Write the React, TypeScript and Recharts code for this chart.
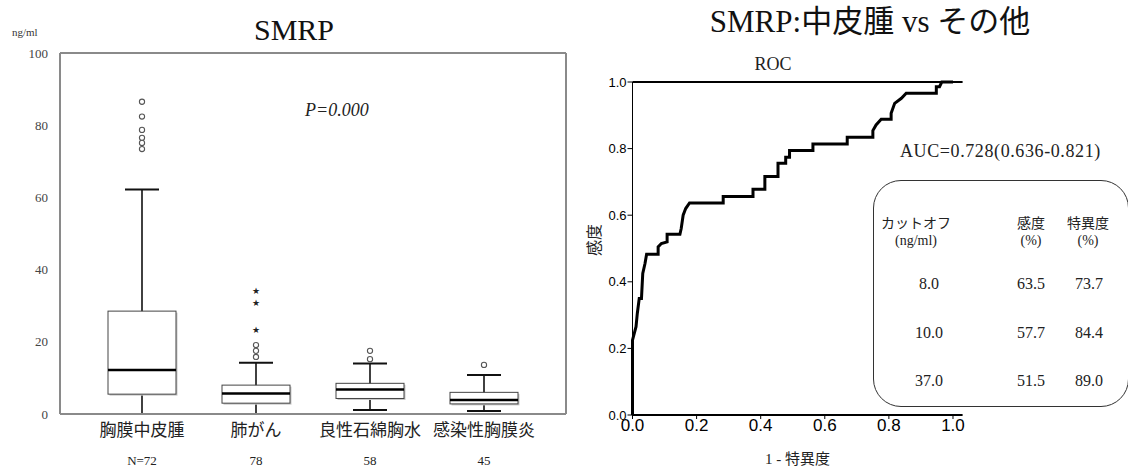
import React from "react";
import {
  ComposedChart,
  Bar,
  Line,
  XAxis,
  YAxis,
  ReferenceLine,
  Label,
} from "recharts";

// box plot (SMRP, ng/ml)
const groups = ["胸膜中皮腫", "肺がん", "良性石綿胸水", "感染性胸膜炎"];
const counts = ["N=72", "78", "58", "45"];
const whiskerLow = [0, 0, 1.1, 0.8];
const q1 = [5.5, 3.0, 4.3, 2.8];
const median = [12.2, 5.7, 6.8, 3.9];
const q3 = [28.5, 8.0, 8.5, 6.0];
const whiskerHigh = [62.2, 14.2, 14.0, 10.8];
const outliers = [[86.5, 82.4, 78.7, 76.5, 75.1, 73.4], [19.1, 17.5, 15.8], [17.5, 15.2], [13.6]];
const extremes = [[], [34.3, 30.8, 23.3], [], []];
const boxTicks = [0, 20, 40, 60, 80, 100];

// ROC curve
const fpr = [
  0, 0, 0.011, 0.015, 0.021, 0.028, 0.032, 0.039, 0.044, 0.08, 0.08, 0.09, 0.108, 0.108, 0.148,
  0.152, 0.158, 0.166, 0.178, 0.283, 0.283, 0.376, 0.376, 0.413, 0.413, 0.454, 0.454, 0.478,
  0.478, 0.49, 0.49, 0.563, 0.563, 0.67, 0.67, 0.75, 0.75, 0.76, 0.776, 0.807, 0.807, 0.818,
  0.839, 0.854, 0.948, 0.948, 0.958, 0.965, 1.0,
];
const tpr = [
  0, 0.225, 0.265, 0.305, 0.35, 0.35, 0.425, 0.455, 0.483, 0.483, 0.505, 0.515, 0.52, 0.543,
  0.543, 0.56, 0.6, 0.62, 0.637, 0.637, 0.656, 0.656, 0.678, 0.678, 0.716, 0.716, 0.756, 0.756,
  0.774, 0.774, 0.794, 0.794, 0.814, 0.814, 0.834, 0.834, 0.854, 0.871, 0.888, 0.888, 0.906,
  0.936, 0.951, 0.966, 0.966, 0.986, 0.986, 1.0, 1.0,
];
const rocTicks = [0, 0.2, 0.4, 0.6, 0.8, 1.0];

// cutoff table
const cutoffs = ["8.0", "10.0", "37.0"];
const sensitivity = ["63.5", "57.7", "51.5"];
const specificity = ["73.7", "84.4", "89.0"];

const SERIF = "'Liberation Serif', 'Noto Sans CJK JP', serif";
const SANS = "'Liberation Sans', Arial, sans-serif";
const FRAME = { stroke: "#8a8a8a", strokeWidth: 2 };

const boxData = groups.map((name, i) => ({
  name,
  lo: whiskerLow[i],
  q1: q1[i],
  med: median[i],
  q3: q3[i],
  hi: whiskerHigh[i],
  range: [whiskerLow[i], whiskerHigh[i]],
  outliers: outliers[i],
  extremes: extremes[i],
}));

const rocData = fpr.map((x, i) => ({ fpr: x, tpr: tpr[i] }));

// draws whiskers, box, median and outliers; scale taken from the range bar
// eslint-disable-next-line @typescript-eslint/no-explicit-any
function BoxShape(props: any) {
  const { x, y, width, height, payload: p } = props;
  const top = Math.min(y, y + height);
  const bot = Math.max(y, y + height);
  const k = (bot - top) / (p.hi - p.lo);
  const Y = (v: number) => bot - (v - p.lo) * k;
  const cx = x + width / 2;
  const cap = width / 4;
  return (
    <g>
      <line x1={cx} x2={cx} y1={Y(p.hi)} y2={Y(p.lo)} stroke="#111" strokeWidth={1.6} />
      <line x1={cx - cap} x2={cx + cap} y1={Y(p.hi)} y2={Y(p.hi)} stroke="#111" strokeWidth={2} />
      <line x1={cx - cap} x2={cx + cap} y1={Y(p.lo)} y2={Y(p.lo)} stroke="#111" strokeWidth={2} />
      <rect x={x + 1.5} y={Y(p.q3) + 1.5} width={width} height={Y(p.q1) - Y(p.q3)} fill="#c8c8c8" />
      <rect x={x} y={Y(p.q3)} width={width} height={Y(p.q1) - Y(p.q3)} fill="#fff" stroke="#444" strokeWidth={1} />
      <line x1={x} x2={x + width} y1={Y(p.med)} y2={Y(p.med)} stroke="#000" strokeWidth={2.5} />
      {p.outliers.map((v: number, i: number) => (
        <circle key={"o" + i} cx={cx} cy={Y(v)} r={2.6} fill="#fff" stroke="#555" strokeWidth={1.1} />
      ))}
      {p.extremes.map((v: number, i: number) => (
        <text key={"e" + i} x={cx} y={Y(v) + 3.5} textAnchor="middle" fontSize={9} fill="#222" fontFamily="'DejaVu Sans'">
          ★
        </text>
      ))}
    </g>
  );
}

// eslint-disable-next-line @typescript-eslint/no-explicit-any
function GroupTick(props: any) {
  const { x, y, payload, index } = props;
  return (
    <g>
      <text x={x} y={y + 22} textAnchor="middle" fontSize={17} fill="#222" fontFamily={SERIF}>
        {payload.value}
      </text>
      <text x={x} y={y + 51} textAnchor="middle" fontSize={13} fill="#222" fontFamily={SERIF}>
        {counts[index]}
      </text>
    </g>
  );
}

const abs = (left: number, top: number, extra: React.CSSProperties = {}): React.CSSProperties => ({
  position: "absolute",
  left,
  top,
  whiteSpace: "nowrap",
  ...extra,
});

export default function App() {
  return (
    <div style={{ position: "absolute", left: 0, top: 0, width: 1128, height: 469, background: "#fff", overflow: "hidden" }}>
      {/* left: box plot */}
      <div style={abs(0, 0)}>
        <ComposedChart width={600} height={469} data={boxData} margin={{ top: 52, right: 33, left: 10, bottom: 5 }}>
          <XAxis
            dataKey="name"
            type="category"
            padding={{ left: 25, right: 25 }}
            height={50}
            axisLine={FRAME}
            tickLine={false}
            tickSize={0}
            tickMargin={0}
            interval={0}
            tick={<GroupTick />}
          />
          <XAxis xAxisId="top" orientation="top" dataKey="name" type="category" height={1} axisLine={FRAME} tickLine={false} tick={false} />
          <YAxis
            type="number"
            domain={[0, 100]}
            ticks={boxTicks}
            width={50}
            axisLine={FRAME}
            tickLine={false}
            tickSize={0}
            tickMargin={12}
            tick={{ fontSize: 13, fill: "#444", fontFamily: SERIF }}
          />
          <YAxis yAxisId="right" orientation="right" type="number" domain={[0, 100]} width={1} axisLine={FRAME} tickLine={false} tick={false} />
          <Bar dataKey="range" barSize={68} isAnimationActive={false} shape={(p: unknown) => <BoxShape {...(p as object)} />} />
        </ComposedChart>
      </div>
      <div style={abs(294, 13, { transform: "translateX(-50%)", fontFamily: SERIF, fontSize: 30, lineHeight: "34px", color: "#111" })}>SMRP</div>
      <div style={abs(12, 26, { fontFamily: SERIF, fontSize: 11, lineHeight: "13px", color: "#333" })}>ng/ml</div>
      <div style={abs(305, 100, { fontFamily: SERIF, fontStyle: "italic", fontSize: 18, lineHeight: "21px", color: "#222" })}>P=0.000</div>

      {/* right: ROC */}
      <div style={abs(560, 0)}>
        <ComposedChart width={568} height={469} data={rocData} margin={{ top: 82, right: 165.4, left: 32.5, bottom: 24 }}>
          <XAxis
            dataKey="fpr"
            type="number"
            domain={[0, 1.03]}
            ticks={rocTicks}
            tickFormatter={(v: number) => v.toFixed(1)}
            height={30}
            axisLine={{ stroke: "#000", strokeWidth: 2 }}
            tickLine={{ stroke: "#000" }}
            tickSize={4}
            tickMargin={0}
            tick={{ fontSize: 17, fill: "#000", fontFamily: SANS }}
          >
            <Label value="1 - 特異度" position="bottom" offset={8} style={{ fontSize: 15, fill: "#222", fontFamily: SERIF }} />
          </XAxis>
          <YAxis
            type="number"
            domain={[0, 1]}
            ticks={rocTicks}
            tickFormatter={(v: number) => v.toFixed(1)}
            width={40}
            axisLine={{ stroke: "#000" }}
            tickLine={{ stroke: "#000" }}
            tickSize={5}
            tickMargin={1}
            tick={{ fontSize: 13, fill: "#000", fontFamily: SANS }}
          />
          <ReferenceLine y={1} stroke="#000" strokeWidth={2} />
          <Line dataKey="tpr" type="linear" stroke="#000" strokeWidth={3} dot={false} isAnimationActive={false} />
        </ComposedChart>
      </div>
      <div style={abs(870, 4, { transform: "translateX(-50%)", fontFamily: SERIF, fontSize: 31, lineHeight: "36px", color: "#111" })}>
        SMRP:中皮腫 vs その他
      </div>
      <div style={abs(773, 53, { transform: "translateX(-50%)", fontFamily: SERIF, fontSize: 18, lineHeight: "22px", color: "#222" })}>ROC</div>
      <div style={abs(595, 240, { transform: "translate(-50%, -50%) rotate(-90deg)", fontFamily: SERIF, fontSize: 16, lineHeight: "20px", color: "#222" })}>感度</div>
      <div style={abs(900, 141, { fontFamily: SERIF, fontSize: 18, letterSpacing: 0.6, lineHeight: "20px", color: "#222" })}>AUC=0.728(0.636-0.821)</div>

      {/* cutoff table */}
      <div style={abs(873, 180, { width: 256, height: 227, border: "1.3px solid #333", borderRadius: 28, boxSizing: "border-box" })}>
        {[
          { hx: 42, vx: 55, head: ["カットオフ", "(ng/ml)"], vals: cutoffs },
          { hx: 157, vx: 157, head: ["感度", "(%)"], vals: sensitivity },
          { hx: 214, vx: 215, head: ["特異度", "(%)"], vals: specificity },
        ].map((col) => (
          <React.Fragment key={col.hx}>
            {[...col.head, ...col.vals].map((t, i) => (
              <div
                key={i}
                style={abs(i < 2 ? col.hx : col.vx, [43, 60, 103, 152, 200][i], {
                  transform: "translate(-50%, -50%)",
                  fontFamily: SERIF,
                  fontSize: i < 2 ? 14 : 16,
                  lineHeight: "18px",
                  color: "#222",
                })}
              >
                {t}
              </div>
            ))}
          </React.Fragment>
        ))}
      </div>
    </div>
  );
}
